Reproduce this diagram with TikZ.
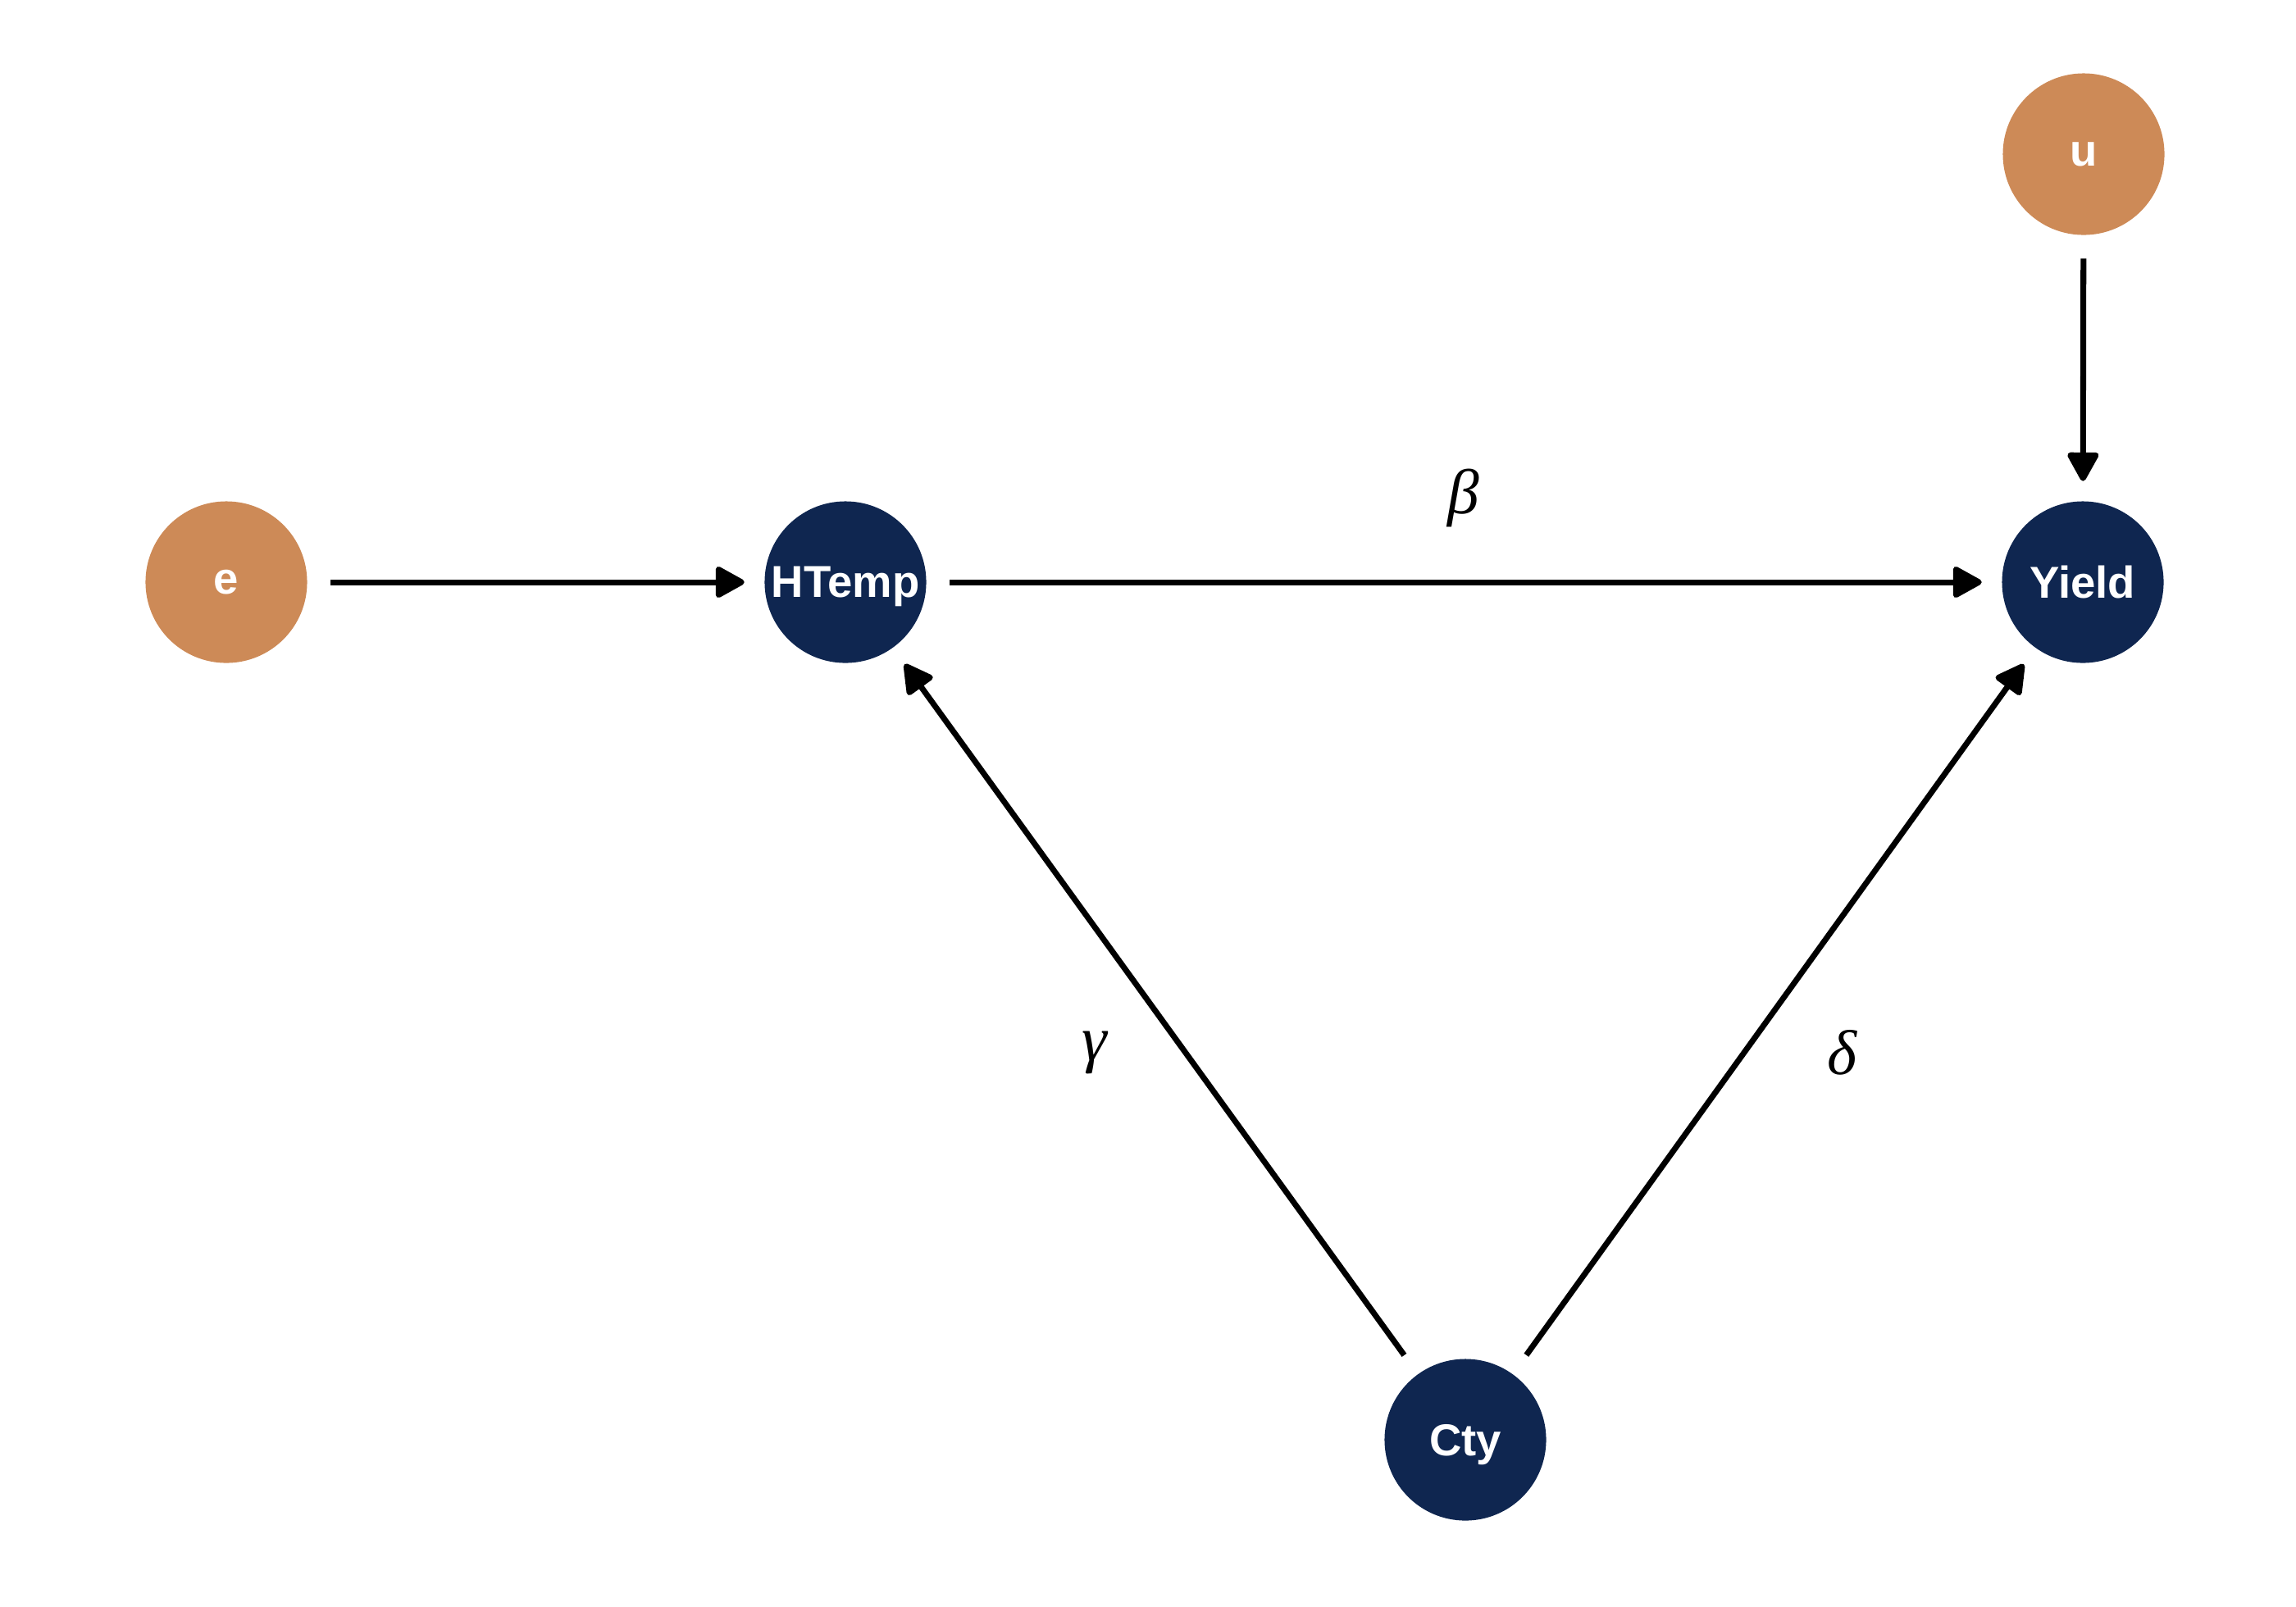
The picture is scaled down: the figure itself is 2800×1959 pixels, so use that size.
\documentclass[tikz,border=0pt]{standalone}
\usepackage{fontspec}
\setmainfont{Liberation Sans}
\newfontfamily\coeffont{Liberation Serif}
\usepackage{xcolor}
\usepackage{tikz}
\usetikzlibrary{arrows.meta}

\definecolor{exoorange}{RGB}{205,138,87}
\definecolor{endonavy}{RGB}{15,38,80}

\tikzset{
  varnode/.style={circle, minimum size=1.97cm, inner sep=0pt, text=white,
    text depth=0pt, font=\fontsize{15.5}{18}\selectfont\bfseries},
  exonode/.style={varnode, fill=exoorange},
  endonode/.style={varnode, fill=endonavy},
  dagarrow/.style={-{Triangle[length=3.9mm, width=4.1mm, round]}, line width=2pt,
    shorten >=2.4mm, shorten <=2.8mm},
  coeflabel/.style={font=\fontsize{22}{26}\selectfont\coeffont\itshape}
}

\begin{document}
\begin{tikzpicture}[x=0.01cm, y=-0.01cm]
    \useasboundingbox (0,0) rectangle (2800,1959);

    % Draw the variables
    \node[exonode] (e) at (276,710) {e};
    \node[endonode] (htemp) at (1031,710) {HTemp};
    \node[endonode] (yield) at (2540,710) {Yield};
    \node[exonode] (u) at (2541,188) {u};
    \node[endonode] (cty) at (1787,1756) {Cty};

    % Draw the causal arrows
    \draw[dagarrow] (e) -- (htemp);
    \draw[dagarrow] (htemp) -- (yield);
    \draw[dagarrow] (u) -- (yield);
    \draw[dagarrow] (cty) -- (htemp);
    \draw[dagarrow] (cty) -- (yield);

    % Label the coefficients
    \node[coeflabel] (beta) at (1785,607) {β};
    \node[coeflabel] (gamma) at (1335,1284) {γ};
    \node[coeflabel] (delta) at (2246,1284) {δ};
\end{tikzpicture}
\end{document}
